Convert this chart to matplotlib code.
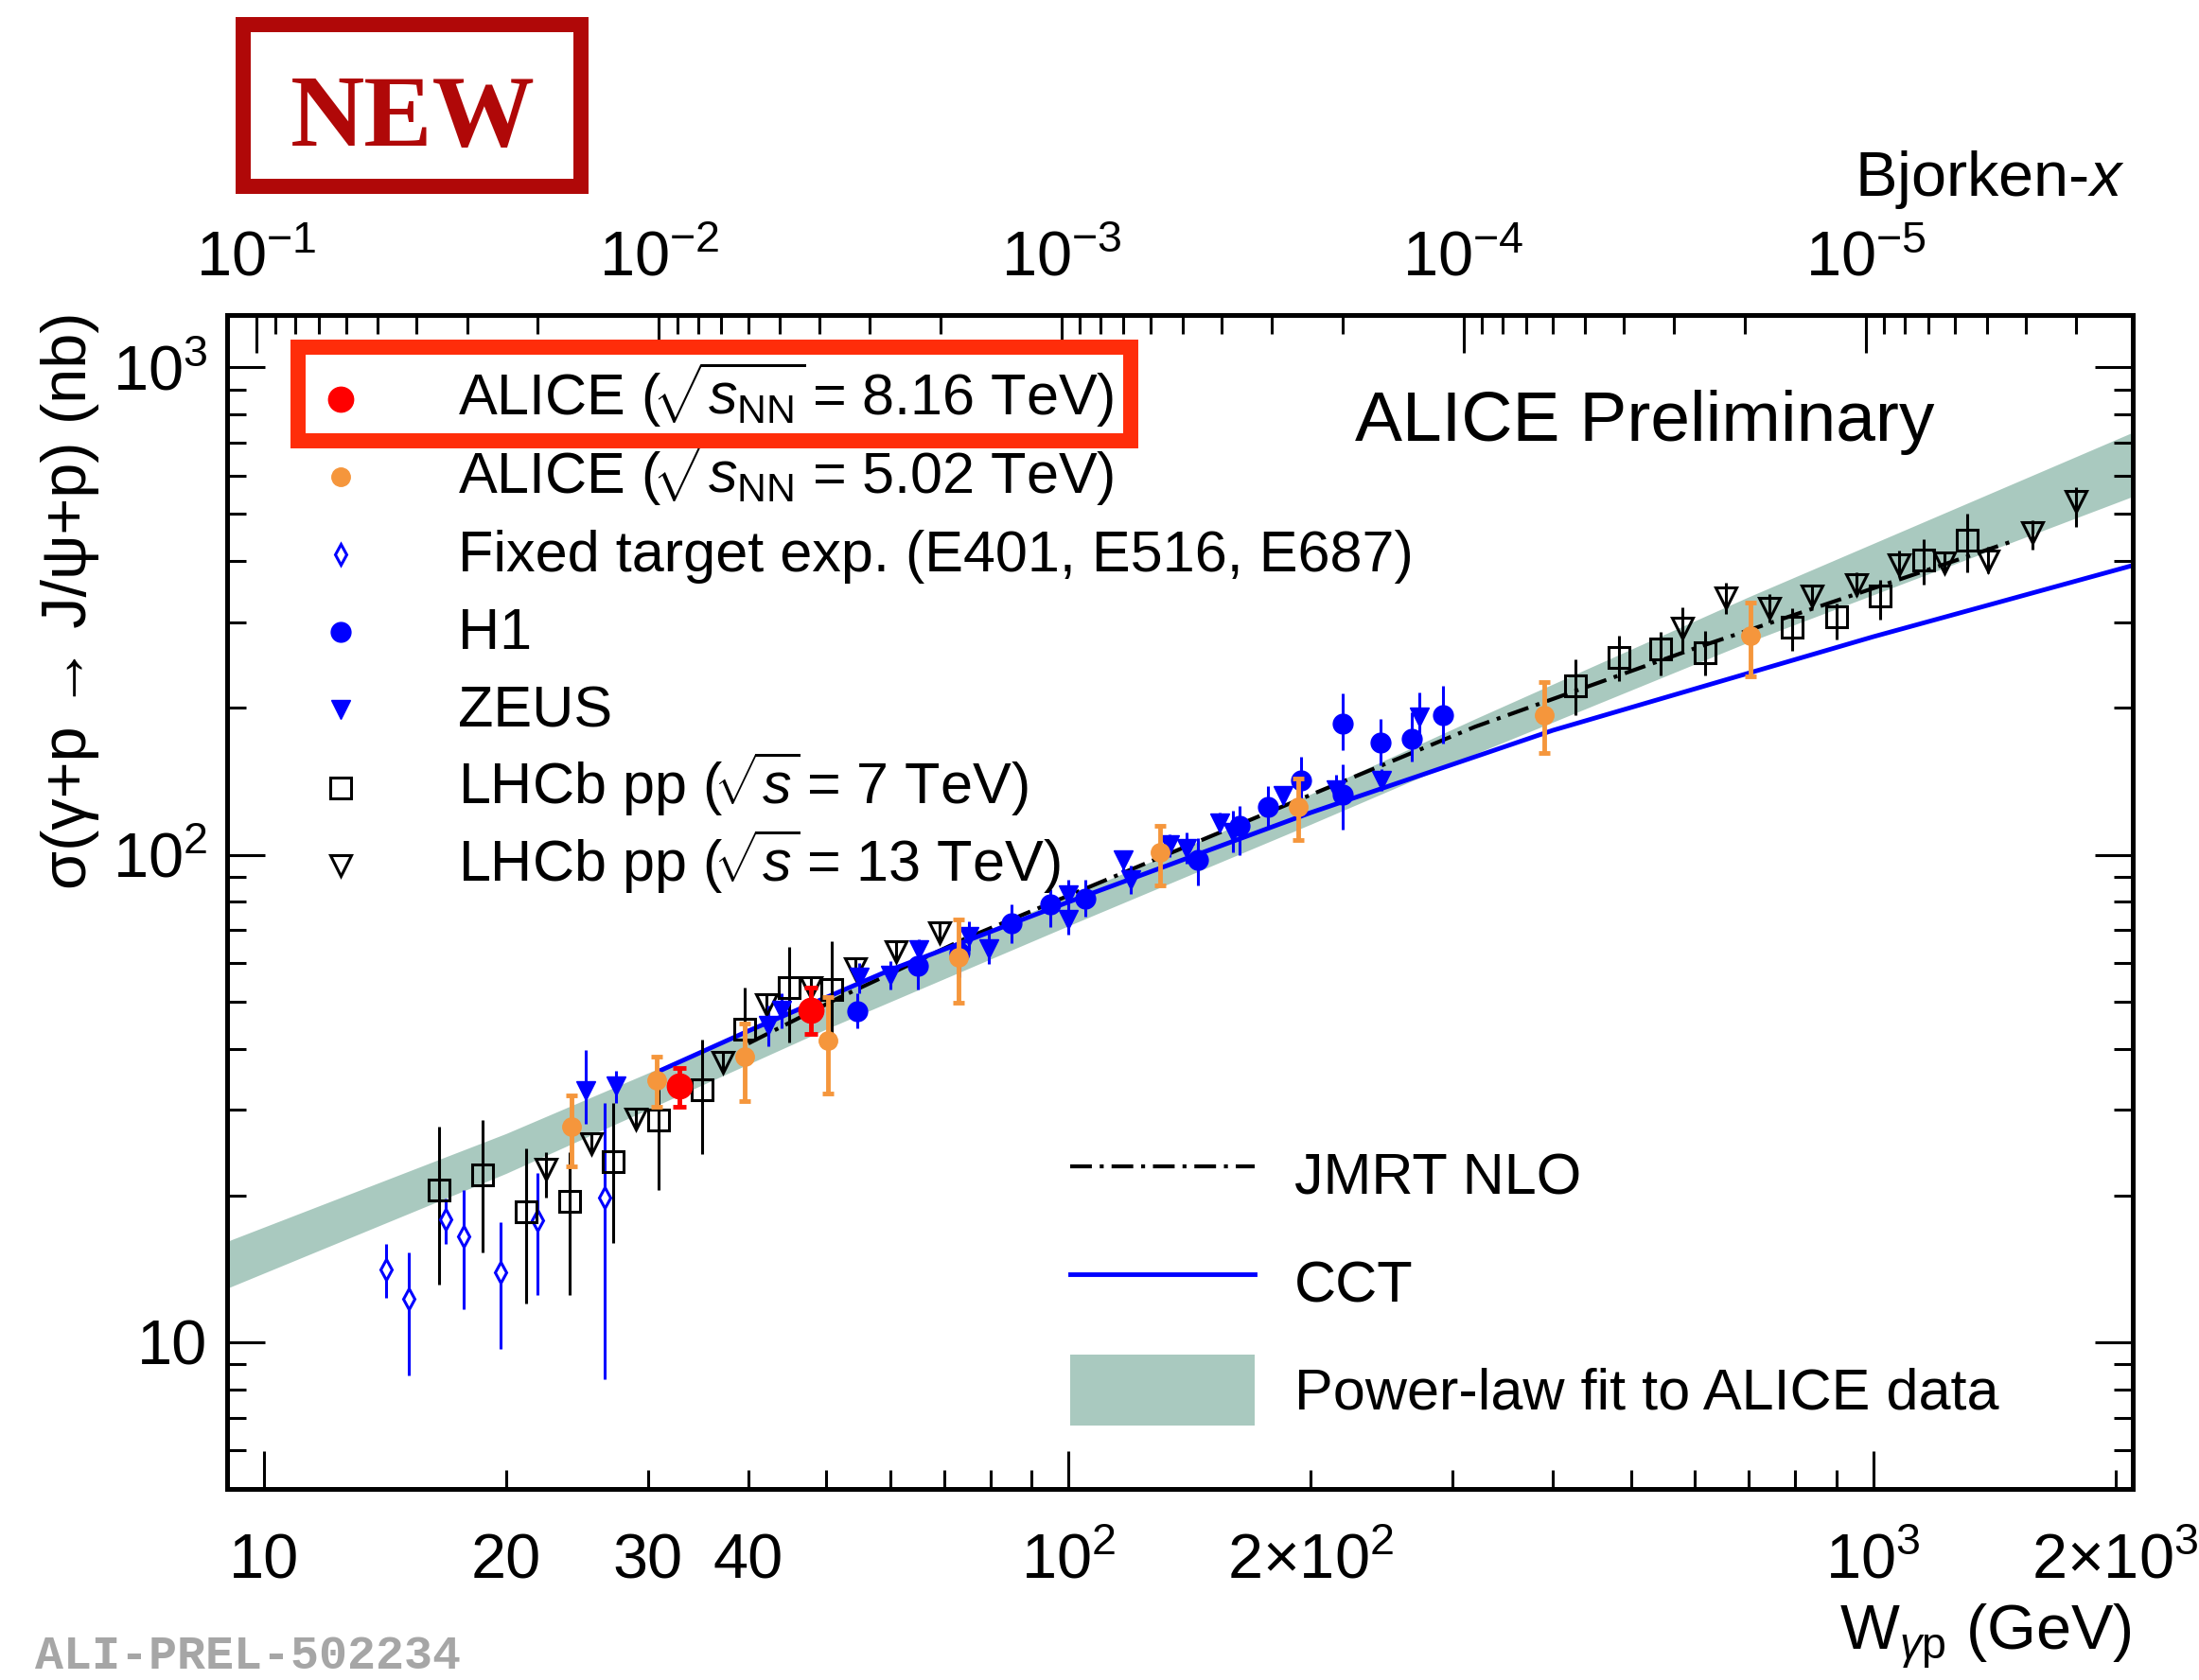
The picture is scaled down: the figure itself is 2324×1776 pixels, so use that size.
import numpy as np
import matplotlib
matplotlib.use('Agg')
import matplotlib.pyplot as plt
from matplotlib.patches import Rectangle
from matplotlib.ticker import NullFormatter

plt.rcParams['font.family'] = ['Liberation Sans', 'DejaVu Sans']
plt.rcParams['mathtext.fontset'] = 'custom'
plt.rcParams['mathtext.rm'] = 'Liberation Sans'
plt.rcParams['mathtext.it'] = 'Liberation Sans:italic'
plt.rcParams['mathtext.bf'] = 'Liberation Sans:bold'

# ---- data (W in GeV, sigma in nb) ----
# ALICE p-Pb 8.16 TeV
a816_w = [32.8, 47.8]
a816_s = [33.6, 48.0]
a816_lo = [30.4, 42.9]
a816_hi = [36.6, 53.4]

# ALICE p-Pb 5.02 TeV
a502_w = [24.1, 30.8, 39.6, 50.3, 73.0, 129.8, 193, 390, 704]
a502_s = [27.7, 34.5, 38.5, 41.5, 61.5, 101, 125.4, 193, 282]
a502_lo = [22.9, 30.4, 31.2, 32.3, 49.8, 86.5, 107.3, 161.4, 232.4]
a502_hi = [32.1, 38.5, 45.1, 51.1, 73.5, 114.7, 143.3, 225.6, 329.7]

# fixed target (E401, E516, E687)
ft_w = [14.2, 15.15, 16.8, 17.7, 19.7, 21.9, 26.5]
ft_s = [14.1, 12.25, 17.9, 16.5, 13.9, 17.8, 19.8]
ft_lo = [12.35, 8.54, 15.9, 11.7, 9.7, 12.5, 8.4]
ft_hi = [15.9, 15.3, 19.75, 20.5, 17.6, 22.2, 30.9]

# H1
h1_w = [54.7, 65.0, 73.2, 84.9, 94.9, 105, 145, 163, 177, 194.5, 219, 219, 244, 267, 292]
h1_s = [47.8, 59.2, 62.9, 72.4, 79.2, 81.4, 97.4, 114.7, 125.4, 142.2, 186, 133, 170, 172.6, 193.5]
h1_lo = [44.0, 53.0, 56.0, 66.0, 71.0, 74.5, 86.5, 100, 113, 128, 164, 112.5, 152.7, 155, 169]
h1_hi = [52.0, 65.0, 68.0, 79.0, 85.0, 89.0, 108, 126, 138, 159, 214, 153, 190, 196, 222]

# ZEUS
zeus_w = [25.1, 27.4, 42.3, 44.0, 55.0, 60.0, 65.1, 75.3, 79.5, 99.9, 99.9, 117, 119.5,
          133.5, 140, 154, 160, 185, 215, 245, 273]
zeus_s = [32.8, 33.6, 44.6, 48.0, 56.0, 56.7, 63.7, 68.1, 64.2, 82.7, 73.5, 97.4, 89.0,
          105, 103, 116, 111, 132, 136, 142, 192]
zeus_lo = [28.0, 31.0, 40.5, 44.0, 52.0, 53.0, 58.0, 63.5, 59.7, 78.0, 68.5, 93.0, 83.0,
           99.0, 96.0, 112, 101, 127, 128, 135, 168]
zeus_hi = [39.8, 36.0, 49.0, 52.0, 60.0, 60.5, 67.0, 73.0, 69.5, 89.0, 79.0, 102, 95.0,
           110, 111, 122, 123, 138, 146, 150, 215]

# LHCb pp 7 TeV
l7_w = [16.5, 18.7, 21.2, 24.0, 27.2, 30.9, 35.0, 39.6, 44.9, 50.8,
        427, 483, 545, 619, 794, 900, 1019, 1156, 1309]
l7_s = [20.5, 22.0, 18.5, 19.45, 23.5, 28.6, 32.9, 43.9, 53.5, 52.9,
        222, 254, 264, 260, 293, 308, 340, 403, 441]
l7_lo = [13.1, 15.3, 12.0, 12.5, 16.0, 20.5, 24.3, 35.0, 41.2, 42.0,
         193, 227, 233, 233, 262, 276, 303, 358, 380]
l7_hi = [27.7, 28.6, 25.0, 24.5, 30.9, 34.5, 41.7, 53.4, 64.6, 66.4,
         252, 282, 286, 288, 320, 327, 366, 444, 500]

# LHCb pp 13 TeV
l13_w = [22.4, 25.5, 29.0, 37.2, 42.1, 47.8, 54.3, 61.0, 69.1,
         580, 657, 744, 840, 954, 1078, 1226, 1388, 1576, 1786]
l13_s = [22.6, 25.6, 28.7, 37.5, 49.3, 53.5, 58.5, 63.4, 69.2,
         292, 337, 320, 340, 358, 394, 397, 400, 457, 531]
l13_lo = [19.8, 24.5, 27.3, 35.8, 47.0, 51.0, 55.5, 60.5, 66.0,
          260, 312, 300, 320, 340, 372, 380, 378, 422, 471]
l13_hi = [24.5, 26.8, 30.1, 39.5, 52.0, 56.0, 61.5, 66.5, 72.5,
          322, 362, 342, 358, 380, 420, 418, 428, 485, 567]

# theory curves
jmrt_w = [40, 52, 74, 150, 320, 600, 1000, 1480]
jmrt_s = [41, 51, 67, 109, 183, 265, 352, 438]
cct_w = [31, 40, 60, 100, 200, 400, 1000, 2100]
cct_s = [36, 43.5, 58, 80, 122, 180, 280, 392]

# power-law fit band
band_w = [9, 20, 50, 100, 200, 320, 700, 2100]
band_lo = [12.9, 22.2, 43.9, 71.5, 115.5, 161, 273, 543]
band_hi = [16.1, 26.8, 51.1, 82.1, 133.2, 190, 338, 735]

x_major = [10, 100, 1000]
x_major_labels = ['10', r'$10^{2}$', r'$10^{3}$']
x_minor = [20, 30, 40, 50, 60, 70, 80, 90, 200, 300, 400, 500, 600, 700, 800, 900, 2000]
x_minor_labels = ['20', '30', '40', '', '', '', '', '', r'$2{\times}10^{2}$',
                  '', '', '', '', '', '', '', r'$2{\times}10^{3}$']
y_major = [10, 100, 1000]
y_major_labels = ['10', r'$10^{2}$', r'$10^{3}$']
y_minor = [6, 7, 8, 9, 20, 30, 40, 50, 60, 70, 80, 90, 200, 300, 400, 500, 600, 700, 800, 900]
bx_major = [1e-1, 1e-2, 1e-3, 1e-4, 1e-5]
bx_major_labels = [r'$10^{-1}$', r'$10^{-2}$', r'$10^{-3}$', r'$10^{-4}$', r'$10^{-5}$']

M_JPSI = 3.097

BLUE = '#0000ff'
ORANGE = '#f5963c'
RED = '#ff0000'
BAND = '#a9c9bf'


def yerr(s, lo, hi):
    return [np.subtract(s, lo), np.subtract(hi, s)]


def w_to_x(w):
    w = np.asarray(w, dtype=float)
    with np.errstate(divide='ignore', invalid='ignore'):
        return (M_JPSI / w) ** 2


def x_to_w(x):
    x = np.asarray(x, dtype=float)
    with np.errstate(divide='ignore', invalid='ignore'):
        return M_JPSI / np.sqrt(x)


fig = plt.figure(figsize=(23.24, 17.76), dpi=100)
ax = fig.add_axes([0.10327, 0.11374, 0.86644, 0.69876])
ax.set_xscale('log')
ax.set_yscale('log')
ax.set_xlim(9, 2100)
ax.set_ylim(5, 1280)

band = ax.fill_between(band_w, band_lo, band_hi, color=BAND, lw=0, zorder=1)
jmrt, = ax.plot(jmrt_w, jmrt_s, color='black', lw=3, ls=(0, (5.5, 2, 1, 2)), zorder=2)
cct, = ax.plot(cct_w, cct_s, color=BLUE, lw=3.5, zorder=2)

# marker styles shared by the plot and the legend
st_a816 = dict(marker='o', ms=19, color=RED)
st_a502 = dict(marker='o', ms=14, color=ORANGE)
st_ft = dict(marker='d', ms=11, mec=BLUE, mfc='white', mew=2.2, color=BLUE)
st_h1 = dict(marker='o', ms=15, color=BLUE)
st_zeus = dict(marker='v', ms=14, color=BLUE)
st_l7 = dict(marker='s', ms=15.5, mec='black', mfc='none', mew=2.2, color='black')
st_l13 = dict(marker='v', ms=16, mec='black', mfc='none', mew=2.2, color='black')

ax.errorbar(ft_w, ft_s, yerr=yerr(ft_s, ft_lo, ft_hi), ls='none', elinewidth=2.2, zorder=3, **st_ft)
ax.errorbar(l7_w, l7_s, yerr=yerr(l7_s, l7_lo, l7_hi), ls='none', elinewidth=2.2, zorder=3, **st_l7)
ax.errorbar(l13_w, l13_s, yerr=yerr(l13_s, l13_lo, l13_hi), ls='none', elinewidth=2.2, zorder=3, **st_l13)
ax.errorbar(zeus_w, zeus_s, yerr=yerr(zeus_s, zeus_lo, zeus_hi), ls='none', elinewidth=2.2, zorder=3, **st_zeus)
ax.errorbar(h1_w, h1_s, yerr=yerr(h1_s, h1_lo, h1_hi), ls='none', elinewidth=2.2, zorder=3, **st_h1)
ax.errorbar(a502_w, a502_s, yerr=yerr(a502_s, a502_lo, a502_hi), ls='none', elinewidth=3.5,
            capsize=4, capthick=3.5, zorder=4, **st_a502)
ax.errorbar(a816_w, a816_s, yerr=yerr(a816_s, a816_lo, a816_hi), ls='none', elinewidth=3.5,
            capsize=5, capthick=3.5, zorder=5, **st_a816)

# axes ticks
ax.set_xticks(x_major, labels=x_major_labels)
ax.set_xticks(x_minor, labels=x_minor_labels, minor=True)
ax.set_yticks(y_major, labels=y_major_labels)
ax.set_yticks(y_minor, minor=True)
ax.yaxis.set_minor_formatter(NullFormatter())
ax.tick_params(which='both', direction='in', top=False, right=True, width=2.2, labelsize=48)
ax.tick_params(which='major', length=29)
ax.tick_params(which='minor', length=14.5)
ax.tick_params(axis='x', which='both', pad=67.7)
ax.tick_params(axis='y', which='both', pad=15)
for lab in ax.get_xticklabels(which='both'):
    lab.set_verticalalignment('baseline')
for sp in ax.spines.values():
    sp.set_linewidth(3.6)

sec = ax.secondary_xaxis('top', functions=(w_to_x, x_to_w))
sec.set_xticks(bx_major, labels=bx_major_labels)
sec.xaxis.set_minor_formatter(NullFormatter())
sec.tick_params(which='both', direction='in', width=2.2, labelsize=48, pad=20)
sec.tick_params(which='major', length=29)
sec.tick_params(which='minor', length=14.5)
sec.spines['top'].set_linewidth(3.6)

# data legend (ROOT-like, evenly spaced rows)
leg_styles = [st_a816, st_a502, st_ft, st_h1, st_zeus, st_l7, st_l13]
leg_labels = [
    r'ALICE ($\!\sqrt{s_{\mathrm{NN}}}\!$ = 8.16 TeV)',
    r'ALICE ($\!\sqrt{s_{\mathrm{NN}}}\!$ = 5.02 TeV)',
    'Fixed target exp. (E401, E516, E687)',
    'H1',
    'ZEUS',
    r'LHCb pp ($\!\sqrt{s}\!$ = 7 TeV)',
    r'LHCb pp ($\!\sqrt{s}\!$ = 13 TeV)',
]
row0, row_step = 0.9284, 0.0662
for i, (st, lab) in enumerate(zip(leg_styles, leg_labels)):
    yy = row0 - i * row_step
    ax.plot([0.0596], [yy], transform=ax.transAxes, clip_on=False, ls='none', zorder=6, **st)
    ax.text(0.1212, yy - 0.0142, lab, transform=ax.transAxes, fontsize=44, va='baseline')

ax.legend([jmrt, cct, band], ['JMRT NLO', 'CCT', 'Power-law fit to ALICE data'],
          loc='upper left', bbox_to_anchor=(0.4425, 0.2978), frameon=False, fontsize=44,
          handlelength=3.19, handleheight=1.53, handletextpad=0.69, labelspacing=0.62,
          borderpad=0, borderaxespad=0)

# labels and annotations
fig.text(74 / 2324, 1 - 329 / 1776, 'σ(γ+p → J/ψ+p) (nb)', rotation=90,
         ha='center', va='top', fontsize=48)
fig.text(2253 / 2324, 1 - 1743 / 1776, r'W$_{\gamma\mathrm{p}}$ (GeV)',
         ha='right', va='baseline', fontsize=48)
fig.text(2245 / 2324, 1 - 207 / 1776, 'Bjorken-$x$', ha='right', va='baseline', fontsize=48)
fig.text(1432 / 2324, 1 - 466 / 1776, 'ALICE Preliminary', ha='left', va='baseline', fontsize=54)

# "NEW" stamp
fig.add_artist(Rectangle((257 / 2324, 1 - 197 / 1776), 357 / 2324, 171 / 1776,
                         transform=fig.transFigure, fill=False, ec='#b00808', lw=11.5))
fig.text(436 / 2324, 1 - 154 / 1776, 'NEW', ha='center', va='baseline', fontsize=78,
         fontweight='bold', family='Liberation Serif', color='#b00808')

# highlight box around the new result
fig.add_artist(Rectangle((315 / 2324, 1 - 466 / 1776), 880 / 2324, 99 / 1776,
                         transform=fig.transFigure, fill=False, ec='#ff2d0a', lw=11.5, zorder=10))

fig.text(37 / 2324, 12 / 1776, 'ALI-PREL-502234', family='Liberation Mono', fontweight='bold',
         fontsize=36, color='#a6a6a6', va='baseline')

fig.savefig('out.png', dpi=100)
